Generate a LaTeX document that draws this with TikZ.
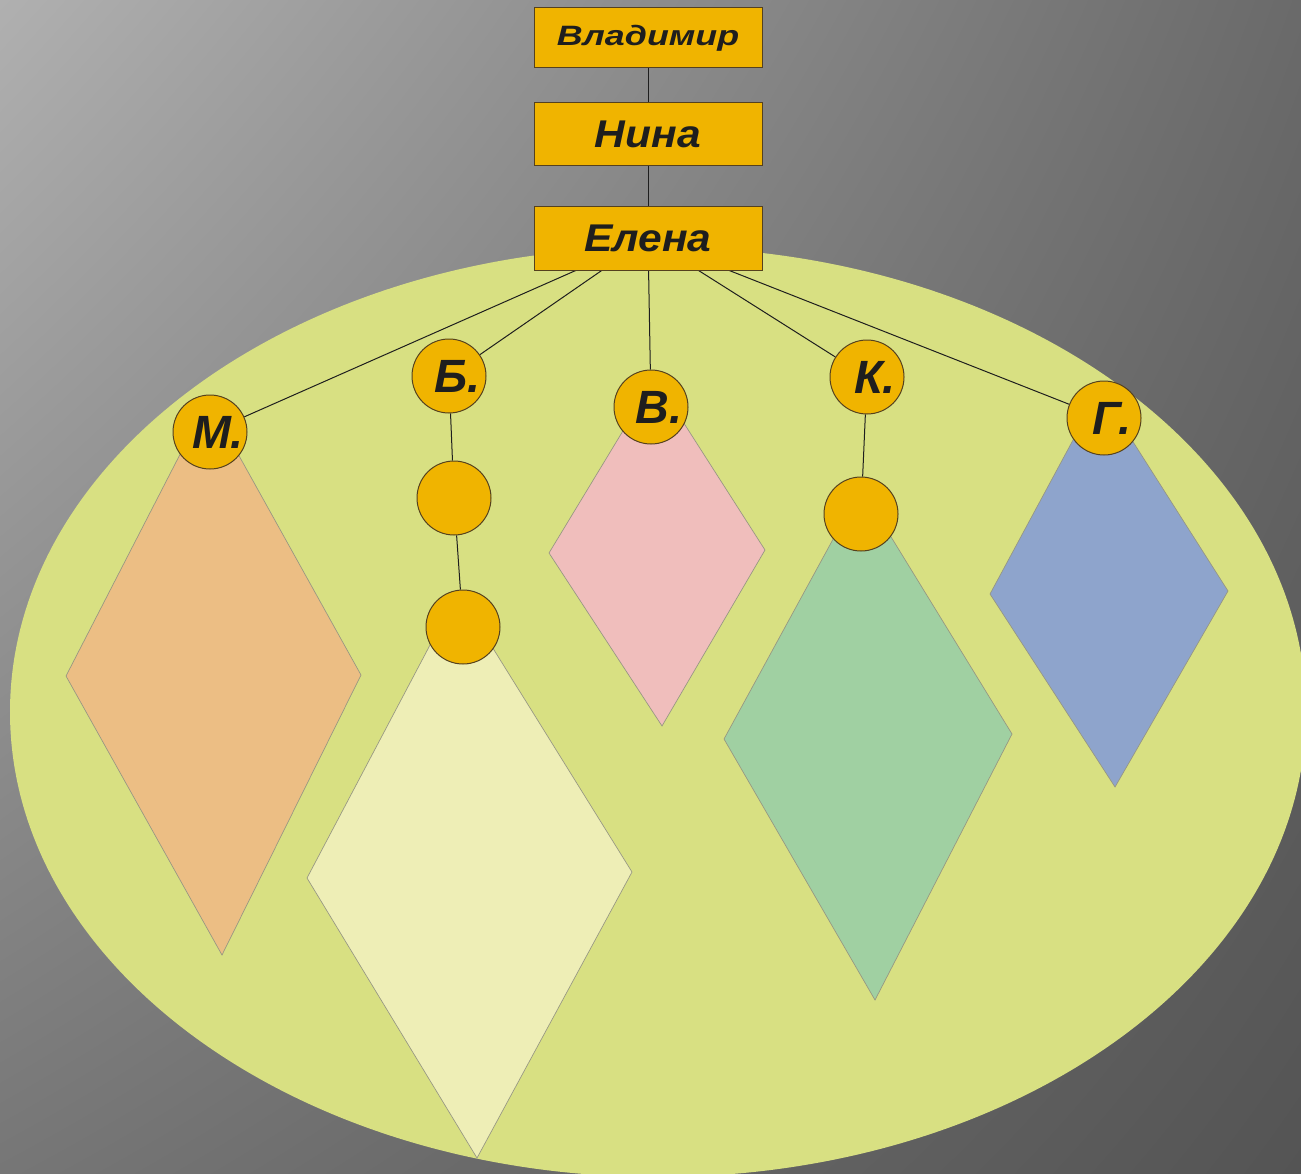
\documentclass[tikz,border=0pt]{standalone}
\usepackage{fontspec}
\setmainfont{Liberation Sans}
\usetikzlibrary{backgrounds,shadings}

\definecolor{boxOrange}{RGB}{240,180,0}
\definecolor{edgeBrown}{RGB}{85,65,30}
\definecolor{inkDark}{RGB}{30,30,30}
\definecolor{eggGreen}{RGB}{216,224,130}
\definecolor{kiteEdge}{RGB}{150,150,130}
\definecolor{kiteOrange}{RGB}{236,190,132}
\definecolor{kiteCream}{RGB}{238,238,182}
\definecolor{kitePink}{RGB}{240,190,188}
\definecolor{kiteGreen}{RGB}{160,208,162}
\definecolor{kiteBlue}{RGB}{142,164,204}
\definecolor{bgLight}{RGB}{176,176,176}
\definecolor{bgRight}{RGB}{106,106,106}
\definecolor{bgLeft}{RGB}{118,118,118}
\definecolor{bgDark}{RGB}{84,84,84}

\tikzset{every picture/.style={line width=0.75pt}}
\newcommand{\kidtext}[1]{\makebox[0pt]{\hspace*{12pt}#1}}

\begin{document}
\begin{tikzpicture}[x=0.75pt,y=0.75pt,yscale=-1,xscale=1,
	namebox/.style={draw=edgeBrown,fill=boxOrange,text=inkDark,minimum width=171pt,inner sep=0pt},
	kidnode/.style={circle,draw=edgeBrown,fill=boxOrange,text=inkDark,minimum size=55.5pt,inner sep=0pt,font=\fontsize{35}{35}\selectfont\bfseries\itshape},
	stem/.style={draw=inkDark,line width=0.75pt},
	kite/.style={draw=kiteEdge,line width=0.5pt}]
	\useasboundingbox (0,0) rectangle (1301,1173);

	% Name boxes
	\node [namebox,minimum height=45pt,font=\fontsize{21}{21}\selectfont\bfseries\itshape] (vladimir) at (648,38) {\scalebox{1.28}[1]{Владимир}};
	\node [namebox,minimum height=47.25pt,font=\fontsize{29}{29}\selectfont\bfseries\itshape] (nina) at (648,134.5) {\scalebox{1.1}[1]{Нина}};
	\node [namebox,minimum height=47.25pt,font=\fontsize{29}{29}\selectfont\bfseries\itshape] (elena) at (648,238.5) {\scalebox{1.1}[1]{Елена}};

	% Children circles
	\node [kidnode] (m) at (210,432) {\kidtext{М.}};
	\node [kidnode] (b) at (449,376) {\kidtext{Б.}};
	\node [kidnode] (b2) at (454,498) {};
	\node [kidnode] (b3) at (463,627) {};
	\node [kidnode] (v) at (651,407) {\kidtext{В.}};
	\node [kidnode] (k) at (867,377) {\kidtext{К.}};
	\node [kidnode] (k2) at (861,514) {};
	\node [kidnode] (g) at (1104,418) {\kidtext{Г.}};

	\begin{scope}[on background layer]
	%Background
	\shade [upper left=bgLight,upper right=bgRight,lower left=bgLeft,lower right=bgDark] (0,0) rectangle (1301,1173);
	%Shape: Ellipse
	\fill [eggGreen] (658,712) ellipse [x radius=486pt,y radius=348.75pt];
	%Shape: Diamonds
	\draw [kite,fill=kiteOrange] (66,676) -- (208,400) -- (361,675) -- (222,955) -- cycle;
	\draw [kite,fill=kiteCream] (307,878) -- (458,592) -- (632,872) -- (477,1158) -- cycle;
	\draw [kite,fill=kitePink] (549,553) -- (655,378) -- (765,550) -- (662,726) -- cycle;
	\draw [kite,fill=kiteGreen] (724,739) -- (861,488) -- (1012,734) -- (875,1000) -- cycle;
	\draw [kite,fill=kiteBlue] (990,594) -- (1100,390) -- (1228,591) -- (1115,787) -- cycle;
	%Straight Lines
	\draw [stem] (vladimir) -- (nina);
	\draw [stem] (nina) -- (elena);
	\draw [stem] (elena) -- (m);
	\draw [stem] (elena) -- (b);
	\draw [stem] (elena) -- (v);
	\draw [stem] (elena) -- (k);
	\draw [stem] (elena) -- (g);
	\draw [stem] (b) -- (b2);
	\draw [stem] (b2) -- (b3);
	\draw [stem] (k) -- (k2);
	\end{scope}

\end{tikzpicture}
\end{document}
